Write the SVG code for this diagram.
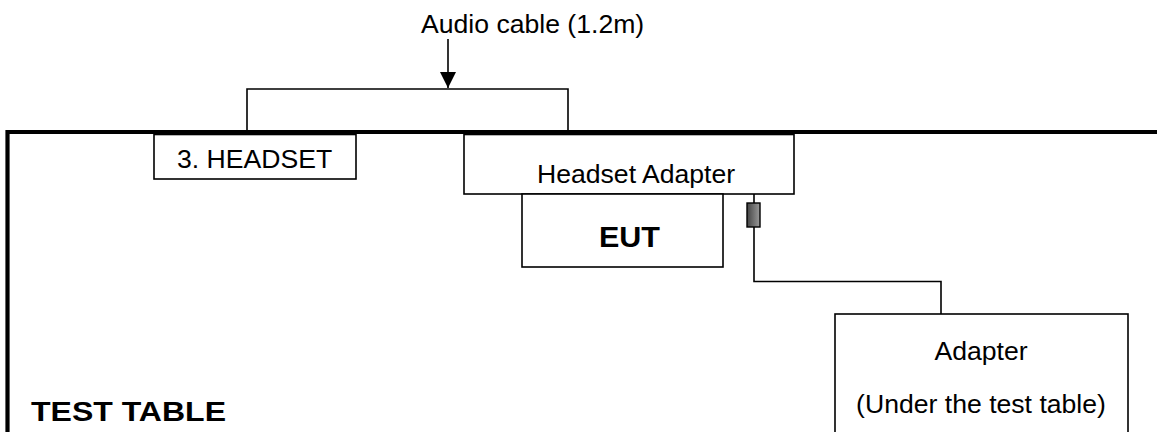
<svg xmlns="http://www.w3.org/2000/svg" width="1157" height="432" viewBox="0 0 1157 432">
<style>
.t{font-family:"Liberation Sans",Arial,sans-serif;font-size:26.6px;fill:#000}
.b{font-family:"Liberation Sans",Arial,sans-serif;font-weight:bold;fill:#000}
.box{fill:#fff;stroke:#000;stroke-width:1.6}
.ln{fill:none;stroke:#000;stroke-width:1.6}
</style>
<defs>
<linearGradient id="g" x1="0" y1="0" x2="1" y2="0">
<stop offset="0" stop-color="#444"/>
<stop offset="1" stop-color="#9a9a9a"/>
</linearGradient>
<marker id="arr" markerUnits="userSpaceOnUse" markerWidth="16" markerHeight="17" refX="16" refY="8" orient="auto">
<path d="M0,0 L16,8 L0,16 Z" fill="#000"/>
</marker>
</defs>
<rect width="1157" height="432" fill="#fff"/>
<g id="connectors">
<path class="ln" d="M247,132 V89 H568 V132"/>
<path class="ln" d="M448,39 V88" marker-end="url(#arr)"/>
<path class="ln" d="M754,194 V203 M754,227 V281.5 H941 V314"/>
</g>
<g id="table">
<path d="M7.5,440 V132 H1160" fill="none" stroke="#000" stroke-width="4.2"/>
<text class="b" x="31" y="421" font-size="28.5" textLength="195" lengthAdjust="spacingAndGlyphs">TEST TABLE</text>
</g>
<g id="audio-cable-label">
<text class="t" x="421" y="33">Audio cable (1.2m)</text>
</g>
<g id="headset">
<rect class="box" x="154" y="134.5" width="202" height="44.5"/>
<text class="t" x="177" y="168">3. HEADSET</text>
</g>
<g id="headset-adapter">
<rect class="box" x="464" y="134.5" width="330" height="59.5"/>
<text class="t" x="537" y="183">Headset Adapter</text>
</g>
<g id="eut">
<rect class="box" x="522" y="194" width="201" height="73"/>
<text class="b" x="599" y="247" font-size="29" textLength="61" lengthAdjust="spacingAndGlyphs">EUT</text>
</g>
<g id="plug">
<rect x="747" y="203" width="13" height="24" fill="url(#g)" stroke="#000" stroke-width="1.4"/>
</g>
<g id="adapter">
<rect class="box" x="835" y="314" width="293" height="130"/>
<text class="t" x="981" y="360" text-anchor="middle">Adapter</text>
<text class="t" x="981" y="413" text-anchor="middle">(Under the test table)</text>
</g>
</svg>
